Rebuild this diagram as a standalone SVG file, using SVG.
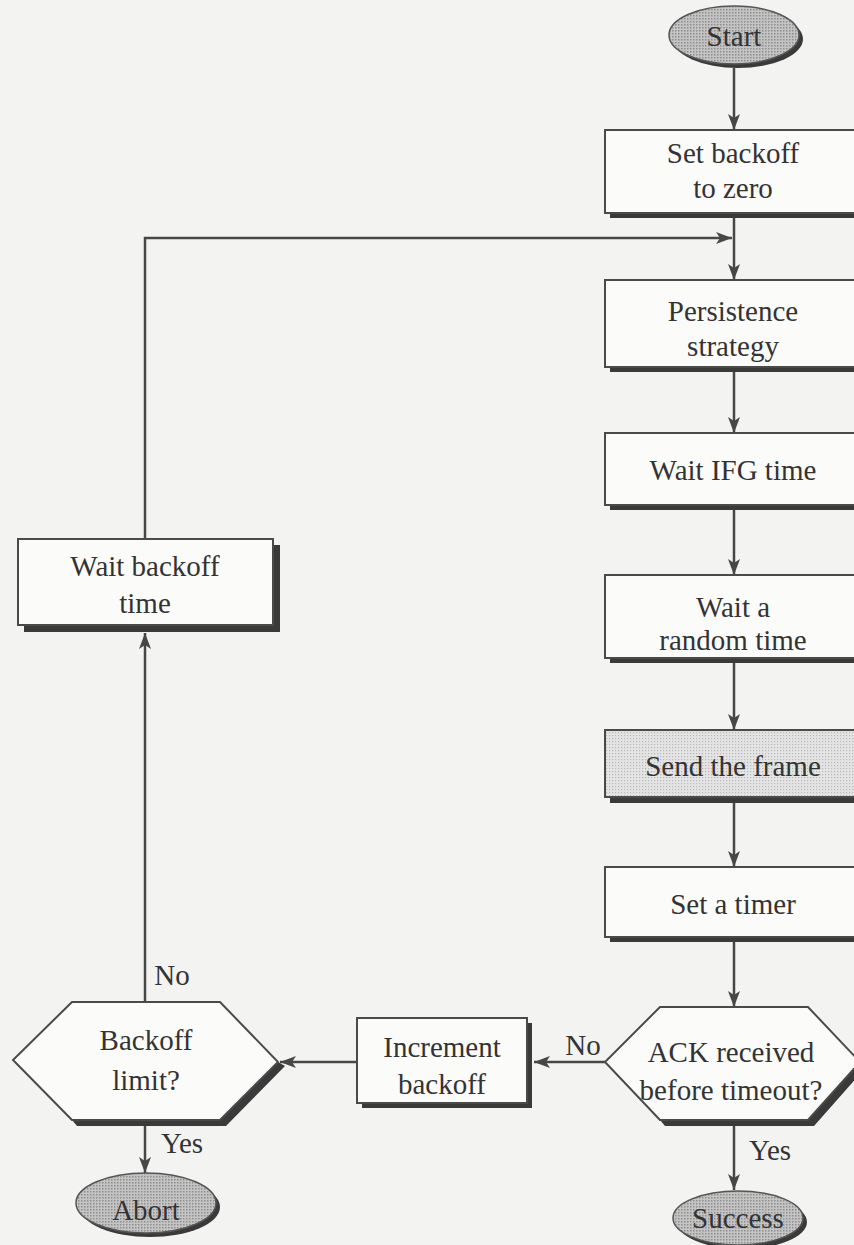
<svg xmlns="http://www.w3.org/2000/svg" width="854" height="1245" viewBox="0 0 854 1245">
  <defs>
    <pattern id="dots" width="3" height="3" patternUnits="userSpaceOnUse">
      <rect width="3" height="3" fill="#c4c4c4"/>
      <rect width="1.5" height="1.5" fill="#8e8e8e"/>
    </pattern>
    <pattern id="dotsLight" width="3" height="3" patternUnits="userSpaceOnUse">
      <rect width="3" height="3" fill="#e4e4e4"/>
      <rect width="1.2" height="1.2" fill="#b8b8b8"/>
    </pattern>
    <marker id="arrow" markerWidth="16" markerHeight="12" refX="16" refY="6" orient="auto" markerUnits="userSpaceOnUse">
      <path d="M0,0 L16,6 L0,12 L4,6 Z" fill="#474747"/>
    </marker>
    <style>
      .box { fill: #fbfbf9; stroke: #4a4a4a; stroke-width: 2; }
      .shadow { fill: #3a3a3a; }
      .term { fill: url(#dots); stroke: #555; stroke-width: 1.5; }
      .hl { fill: url(#dotsLight); stroke: #4a4a4a; stroke-width: 2; }
      .lbl { font-family: "Liberation Serif", "Times New Roman", serif; font-size: 29px; fill: #333; text-anchor: middle; }
      .edge { fill: none; stroke: #474747; stroke-width: 2.5; }
    </style>
  </defs>

  <rect width="854" height="1245" fill="#f3f3f1"/>

  <!-- connectors -->
  <g id="connectors">
    <line class="edge" x1="734" y1="68" x2="734" y2="130" marker-end="url(#arrow)"/>
    <line class="edge" x1="734" y1="218" x2="734" y2="280" marker-end="url(#arrow)"/>
    <polyline class="edge" points="145,539 145,238 732,238" marker-end="url(#arrow)"/>
    <line class="edge" x1="734" y1="372" x2="734" y2="433" marker-end="url(#arrow)"/>
    <line class="edge" x1="734" y1="510" x2="734" y2="575" marker-end="url(#arrow)"/>
    <line class="edge" x1="734" y1="663" x2="734" y2="730" marker-end="url(#arrow)"/>
    <line class="edge" x1="734" y1="803" x2="734" y2="867" marker-end="url(#arrow)"/>
    <line class="edge" x1="734" y1="942" x2="734" y2="1007" marker-end="url(#arrow)"/>
    <line class="edge" x1="605" y1="1062" x2="534" y2="1062" marker-end="url(#arrow)"/>
    <line class="edge" x1="357" y1="1062" x2="280" y2="1062" marker-end="url(#arrow)"/>
    <line class="edge" x1="145" y1="1002" x2="145" y2="633" marker-end="url(#arrow)"/>
    <line class="edge" x1="145" y1="1125" x2="145" y2="1173" marker-end="url(#arrow)"/>
    <line class="edge" x1="734" y1="1125" x2="734" y2="1190" marker-end="url(#arrow)"/>
    <text class="lbl" x="583" y="1055">No</text>
    <text class="lbl" x="172" y="985">No</text>
    <text class="lbl" x="182" y="1153">Yes</text>
    <text class="lbl" x="770" y="1160">Yes</text>
  </g>

  <g id="start">
    <ellipse class="shadow" cx="738" cy="39" rx="65" ry="29"/>
    <ellipse class="term" cx="734" cy="35" rx="65" ry="29"/>
    <text class="lbl" x="734" y="46">Start</text>
  </g>

  <g id="set-backoff">
    <rect class="shadow" x="610" y="135" width="260" height="83"/>
    <rect class="box" x="605" y="130" width="260" height="83"/>
    <text class="lbl" x="733" y="163">Set backoff</text>
    <text class="lbl" x="733" y="198">to zero</text>
  </g>

  <g id="persistence">
    <rect class="shadow" x="610" y="285" width="260" height="87"/>
    <rect class="box" x="605" y="280" width="260" height="87"/>
    <text class="lbl" x="733" y="321">Persistence</text>
    <text class="lbl" x="733" y="356">strategy</text>
  </g>

  <g id="wait-ifg">
    <rect class="shadow" x="610" y="438" width="260" height="72"/>
    <rect class="box" x="605" y="433" width="260" height="72"/>
    <text class="lbl" x="733" y="480">Wait IFG time</text>
  </g>

  <g id="wait-random">
    <rect class="shadow" x="610" y="580" width="260" height="83"/>
    <rect class="box" x="605" y="575" width="260" height="83"/>
    <text class="lbl" x="733" y="617">Wait a</text>
    <text class="lbl" x="733" y="650">random time</text>
  </g>

  <g id="send-frame">
    <rect class="shadow" x="610" y="735" width="260" height="68"/>
    <rect class="hl" x="605" y="730" width="260" height="67"/>
    <text class="lbl" x="733" y="776">Send the frame</text>
  </g>

  <g id="set-timer">
    <rect class="shadow" x="610" y="872" width="260" height="70"/>
    <rect class="box" x="605" y="867" width="260" height="70"/>
    <text class="lbl" x="733" y="914">Set a timer</text>
  </g>

  <g id="ack-check">
    <polygon class="shadow" points="860,1062 867,1066 814,1126 665,1126 660,1120 808,1120"/>
    <polygon class="box" points="660,1007 808,1007 860,1062 808,1120 660,1120 605,1062"/>
    <text class="lbl" x="731" y="1062">ACK received</text>
    <text class="lbl" x="731" y="1100">before timeout?</text>
  </g>

  <g id="increment-backoff">
    <rect class="shadow" x="362" y="1023" width="170" height="85"/>
    <rect class="box" x="357" y="1018" width="170" height="85"/>
    <text class="lbl" x="442" y="1057">Increment</text>
    <text class="lbl" x="442" y="1094">backoff</text>
  </g>

  <g id="backoff-limit">
    <polygon class="shadow" points="278,1062 285,1066 226,1126 77,1126 72,1120 220,1120"/>
    <polygon class="box" points="72,1002 220,1002 278,1062 220,1120 72,1120 13,1060"/>
    <text class="lbl" x="146" y="1050">Backoff</text>
    <text class="lbl" x="146" y="1090">limit?</text>
  </g>

  <g id="wait-backoff">
    <rect class="shadow" x="24" y="545" width="256" height="87"/>
    <rect class="box" x="18" y="539" width="255" height="86"/>
    <text class="lbl" x="145" y="576">Wait backoff</text>
    <text class="lbl" x="145" y="613">time</text>
  </g>

  <g id="abort">
    <ellipse class="shadow" cx="150" cy="1207" rx="70" ry="30"/>
    <ellipse class="term" cx="146" cy="1203" rx="70" ry="30"/>
    <text class="lbl" x="146" y="1220">Abort</text>
  </g>

  <g id="success">
    <ellipse class="shadow" cx="742" cy="1222" rx="65" ry="27"/>
    <ellipse class="term" cx="738" cy="1218" rx="65" ry="27"/>
    <text class="lbl" x="738" y="1228">Success</text>
  </g>
</svg>
